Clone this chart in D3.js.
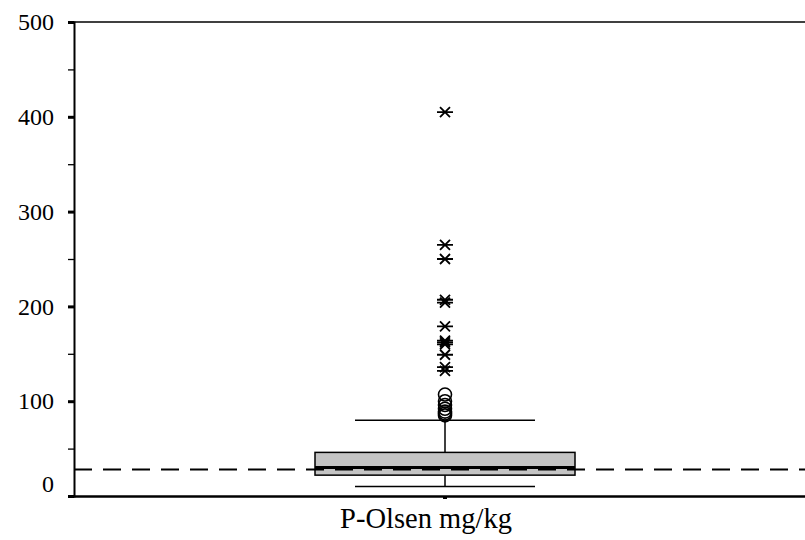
<!DOCTYPE html>
<html>
<head>
<meta charset="utf-8">
<script src="https://cdn.jsdelivr.net/npm/d3@7"></script>
<style>
  html, body { margin: 0; padding: 0; background: #fff; }
  svg { display: block; }
</style>
</head>
<body>
<svg id="chart" width="805" height="540"></svg>
<script>
// ---- data ----
const categories = ["P-Olsen mg/kg"];
const boxStats = [{ cat: "P-Olsen mg/kg", lowWhisker: 10, q1: 22, median: 30, q3: 46, highWhisker: 80 }];
const outlierCircles = [107, 100, 96, 92, 89, 87, 85];
const outlierStars = [405, 265, 250, 207, 204, 179, 164, 162, 160, 149, 136, 132];
const referenceValue = [28];
const yTicks = [0, 100, 200, 300, 400, 500];
const yMinorTicks = [50, 150, 250, 350, 450];

// ---- layout ----
const svg = d3.select("#chart");
const mLeft = 74, mTop = 22, mBottom = 496, mRight = 816;
const font = "'Liberation Serif', 'Times New Roman', serif";

const y = d3.scaleLinear().domain([0, 500]).range([mBottom, mTop]);
const x = d3.scaleBand().domain(categories).range([mLeft, mRight]).paddingInner(0).paddingOuter(0);
const boxW = 260;

// frame: top line
svg.append("line").attr("x1", mLeft).attr("x2", 805).attr("y1", mTop).attr("y2", mTop)
  .attr("stroke", "#000").attr("stroke-width", 1.5);

// box plot
const g = svg.append("g");
boxStats.forEach(d => {
  const cx = x(d.cat) + x.bandwidth() / 2;
  g.append("line").attr("x1", cx).attr("x2", cx).attr("y1", y(d.q3)).attr("y2", y(d.highWhisker))
    .attr("stroke", "#000").attr("stroke-width", 1.5);
  g.append("line").attr("x1", cx).attr("x2", cx).attr("y1", y(d.q1)).attr("y2", y(d.lowWhisker))
    .attr("stroke", "#000").attr("stroke-width", 1.5);
  [d.highWhisker, d.lowWhisker].forEach(v => {
    g.append("line").attr("x1", cx - 90).attr("x2", cx + 90).attr("y1", y(v)).attr("y2", y(v))
      .attr("stroke", "#000").attr("stroke-width", 1.5);
  });
  g.append("rect").attr("x", cx - boxW / 2).attr("width", boxW)
    .attr("y", y(d.q3)).attr("height", y(d.q1) - y(d.q3))
    .attr("fill", "#c4c4c4").attr("stroke", "#000").attr("stroke-width", 1.5);
  g.append("line").attr("x1", cx - boxW / 2).attr("x2", cx + boxW / 2)
    .attr("y1", y(d.median)).attr("y2", y(d.median))
    .attr("stroke", "#000").attr("stroke-width", 3);

  g.selectAll("circle.o").data(outlierCircles).join("circle")
    .attr("class", "o").attr("cx", cx).attr("cy", v => y(v)).attr("r", 6.5)
    .attr("fill", "none").attr("stroke", "#000").attr("stroke-width", 1.6);

  const stars = g.selectAll("g.s").data(outlierStars).join("g")
    .attr("class", "s").attr("transform", v => `translate(${cx},${y(v)})`);
  stars.append("path")
    .attr("d", "M-8,0L8,0M-5,-5L5,5M-5,5L5,-5")
    .attr("stroke", "#000").attr("stroke-width", 1.8).attr("fill", "none");
});

// reference dashed line
svg.selectAll("line.ref").data(referenceValue).join("line")
  .attr("class", "ref").attr("x1", mLeft).attr("x2", 805)
  .attr("y1", d => y(d)).attr("y2", d => y(d))
  .attr("stroke", "#000").attr("stroke-width", 2).attr("stroke-dasharray", "18,11");

// y axis
const yAxis = svg.append("g").attr("transform", `translate(${mLeft},0)`)
  .call(d3.axisLeft(y).tickValues(yTicks).tickSize(6).tickPadding(14).tickFormat(d3.format("d")));
yAxis.select(".domain").attr("stroke-width", 2);
yAxis.selectAll(".tick line").attr("stroke-width", 3);
yAxis.selectAll(".tick text").attr("font-family", font).attr("font-size", 24).attr("fill", "#000")
  .attr("dy", d => d === 0 ? "-0.2em" : "0.32em");
const yMinor = svg.append("g").attr("transform", `translate(${mLeft},0)`)
  .call(d3.axisLeft(y).tickValues(yMinorTicks).tickSize(6).tickFormat(""));
yMinor.select(".domain").remove();
yMinor.selectAll(".tick line").attr("stroke-width", 1.3);

// x axis
const xAxis = svg.append("g").attr("transform", `translate(0,${mBottom})`)
  .call(d3.axisBottom(x).tickSize(3).tickPadding(9).tickSizeOuter(0));
xAxis.select(".domain").attr("stroke-width", 2.5).attr("d", `M${mLeft},0.5H805`);
xAxis.selectAll(".tick line").attr("stroke-width", 4);
xAxis.selectAll(".tick text").attr("font-family", font).attr("font-size", 28.5).attr("fill", "#000")
  .attr("x", -19);
</script>
</body>
</html>
